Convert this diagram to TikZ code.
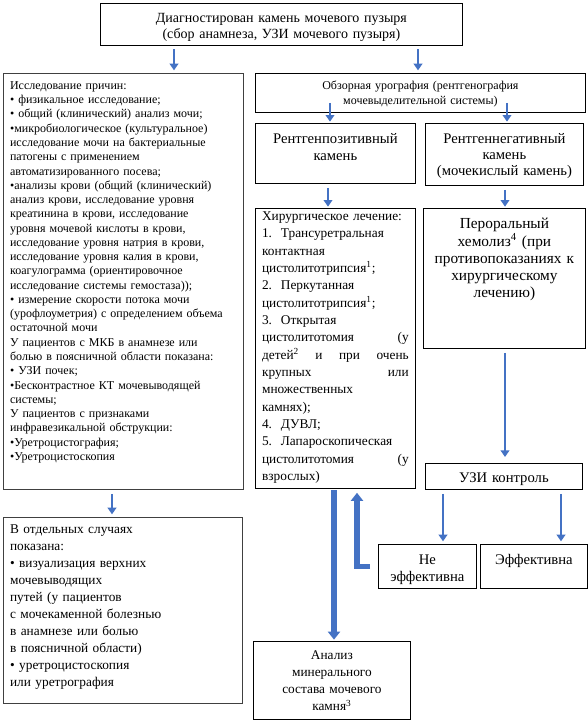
\documentclass[tikz,border=0pt]{standalone}
\usepackage{fontspec}
\setmainfont{Liberation Serif}
\usetikzlibrary{arrows.meta}
\definecolor{arrblue}{RGB}{68,114,196}

\begin{document}
\begin{tikzpicture}[x=0.75pt,y=-0.75pt,
  box/.style={draw=black, line width=0.6pt, anchor=north west, inner xsep=4pt, inner ysep=3pt},
  arr/.style={draw=arrblue, line width=2.2pt, -{Triangle[width=6.5pt,length=5pt]}, shorten <=3pt, shorten >=2pt},
  fatarr/.style={draw=arrblue, line width=4pt, -{Triangle[width=9pt,length=6pt]}}]
\useasboundingbox (0,0) rectangle (588,722);
%columns of the arrows
\coordinate (xa) at (174,0);
\coordinate (xb) at (418,0);
\coordinate (xc) at (330,0);
\coordinate (xd) at (507,0);
\coordinate (xe) at (328,0);
\coordinate (xf) at (505,0);
\coordinate (xg) at (443,0);
\coordinate (xh) at (561,0);
\coordinate (xi) at (112,0);
\coordinate (xj) at (334,0);
\coordinate (xk) at (357,0);

%top
\node[box, text width=263.5pt, text height=11.25pt, text depth=14pt, align=center,
  font=\fontsize{10.5}{12}\selectfont] (diag) at (100,3)
  {Диагностирован камень мочевого пузыря\\(сбор анамнеза, УЗИ мочевого пузыря)};

%left column
\node[box, draw=black!75, inner xsep=5pt, text width=170pt, text height=9pt, text depth=297pt, align=left,
  font=\fontsize{9}{10.7}\selectfont] (causes) at (3,73)
  {Исследование причин:\\
   • физикальное исследование;\\
   • общий (клинический) анализ мочи;\\
   •микробиологическое (культуральное)\\
   исследование мочи на бактериальные\\
   патогены с применением\\
   автоматизированного посева;\\
   •анализы крови (общий (клинический)\\
   анализ крови, исследование уровня\\
   креатинина в крови, исследование\\
   уровня мочевой кислоты в крови,\\
   исследование уровня натрия в крови,\\
   исследование уровня калия в крови,\\
   коагулограмма (ориентировочное\\
   исследование системы гемостаза));\\
   • измерение скорости потока мочи\\
   (урофлоуметрия) с определением объема\\
   остаточной мочи\\
   У пациентов с МКБ в анамнезе или\\
   болью в поясничной области показана:\\
   • УЗИ почек;\\
   •Бесконтрастное КТ мочевыводящей\\
   системы;\\
   У пациентов с признаками\\
   инфравезикальной обструкции:\\
   •Уретроцистография;\\
   •Уретроцистоскопия};

\node[box, draw=black!75, inner xsep=5pt, text width=169pt, text height=9pt, text depth=124.5pt, align=left,
  font=\fontsize{10}{12.75}\selectfont] (cases) at (3,517)
  {В отдельных случаях\\
   показана:\\
   • визуализация верхних\\
   мочевыводящих\\
   путей (у пациентов\\
   с мочекаменной болезнью\\
   в анамнезе или болью\\
   в поясничной области)\\
   • уретроцистоскопия\\
   или уретрография};

%right part
\node[box, text width=239.5pt, text height=9pt, text depth=14.25pt, align=center,
  font=\fontsize{9}{11.25}\selectfont] (obzor) at (255,73)
  {Обзорная урография (рентгенография\\мочевыделительной системы)};

\node[box, text width=112pt, text height=12pt, text depth=27pt, align=center,
  font=\fontsize{11}{12.75}\selectfont] (rpos) at (255,123)
  {Рентгенпозитивный\\камень};

\node[box, text width=110.5pt, text height=12pt, text depth=28.5pt, align=center,
  font=\fontsize{11}{12}\selectfont] (rneg) at (425,123)
  {Рентгеннегативный\\камень\\(мочекислый камень)};

\node[box, inner xsep=5pt, text width=110pt, text height=6pt, text depth=198pt, align=left,
  font=\fontsize{10}{13}\selectfont] (surg) at (255,208)
  {Хирургическое лечение:\\
   1.~~Трансуретральная\\
   контактная\\
   цистолитотрипсия\textsuperscript{1};\\
   2.~~Перкутанная\\
   цистолитотрипсия\textsuperscript{1};\\
   3.~~Открытая\\
   цистолитотомия \hfill (у\\
   детей\textsuperscript{2} \hfill и \hfill при \hfill очень\\
   крупных \hfill или\\
   множественных\\
   камнях);\\
   4.~~ДУВЛ;\\
   5.~~Лапароскопическая\\
   цистолитотомия \hfill (у\\
   взрослых)};

\node[box, text width=113.5pt, text height=12.4pt, text depth=86.6pt, align=center,
  font=\fontsize{11.5}{12.9}\selectfont] (chemo) at (423,208)
  {Пероральный\\хемолиз\textsuperscript{4} (при\\противопоказаниях к\\хирургическому\\лечению)};

\node[box, text width=109.75pt, text height=11.25pt, text depth=2.25pt, align=center,
  font=\fontsize{11}{13}\selectfont] (uzi) at (425,463) {УЗИ контроль};

\node[box, text width=65.5pt, text height=12.4pt, text depth=14.6pt, align=center,
  font=\fontsize{11}{12.75}\selectfont] (ne) at (378,544) {Не\\эффективна};

\node[box, text width=72.25pt, text height=12.4pt, text depth=14.6pt, align=center,
  font=\fontsize{11}{12.75}\selectfont] (eff) at (480,544) {Эффективна};

\node[box, text width=109.75pt, text height=10.9pt, text depth=41.6pt, align=center,
  font=\fontsize{10}{12.75}\selectfont] (analysis) at (253,641)
  {Анализ\\минерального\\состава мочевого\\камня\textsuperscript{3}};

%arrows
\draw[arr] (diag.south -| xa) -- (causes.north -| xa);
\draw[arr] (diag.south -| xb) -- (obzor.north -| xb);
\draw[arr, shorten <=-7.5pt, shorten >=1pt] (obzor.south -| xc) -- (rpos.north -| xc);
\draw[arr, shorten <=-7.5pt, shorten >=1pt] (obzor.south -| xd) -- (rneg.north -| xd);
\draw[arr, shorten >=1pt] (rpos.south -| xe) -- (surg.north -| xe);
\draw[arr, shorten >=1pt] (rneg.south -| xf) -- (chemo.north -| xf);
\draw[arr, shorten >=4.5pt] (chemo.south -| xf) -- (uzi.north -| xf);
\draw[arr] (uzi.south -| xg) -- (ne.north -| xg);
\draw[arr] (uzi.south -| xh) -- (eff.north -| xh);
\draw[arr] (causes.south -| xi) -- (cases.north -| xi);
\draw[fatarr, shorten <=1pt, shorten >=1pt] (surg.south -| xj) -- (analysis.north -| xj);
\draw[fatarr, shorten >=3pt] ([xshift=-6pt]ne.west) -| (surg.south -| xk);
\end{tikzpicture}
\end{document}
